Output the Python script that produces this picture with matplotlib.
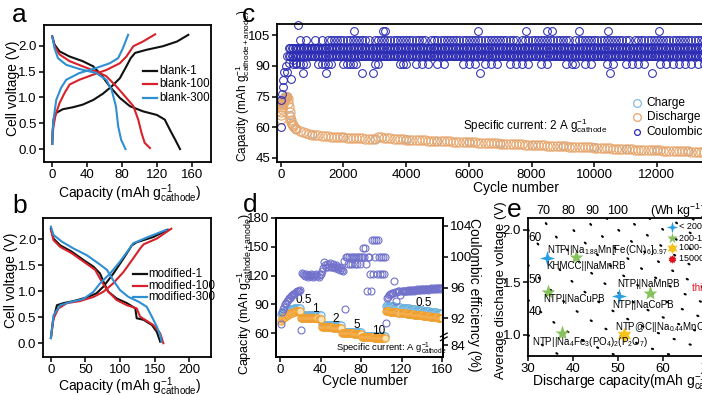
import matplotlib
matplotlib.use('Agg')
import matplotlib.pyplot as plt
from matplotlib.ticker import FormatStrFormatter
from matplotlib.path import Path
import matplotlib.transforms as mtrans
import numpy as np

FONT = 'Liberation Sans'
plt.rcParams.update({
    'font.family': [FONT, 'DejaVu Sans'],
    'mathtext.fontset': 'custom',
    'mathtext.rm': FONT, 'mathtext.it': FONT + ':italic', 'mathtext.bf': FONT + ':bold',
    'mathtext.sf': FONT,
    'font.size': 9,
    'axes.linewidth': 1.3,
    'xtick.direction': 'out', 'ytick.direction': 'out',
    'xtick.major.size': 3.5, 'ytick.major.size': 3.5,
    'xtick.major.width': 1.1, 'ytick.major.width': 1.1,
    'xtick.major.pad': 1.5, 'ytick.major.pad': 1.5,
    'xtick.labelsize': 9.5, 'ytick.labelsize': 9.5,
    'axes.labelsize': 10,
})

# ------------------------------------------------------------------ data
# panel a (blank)
a_c1_cap = [0, 0.5, 1.5, 4.6, 12, 24, 35, 47, 58, 68, 77.5, 85, 90, 95, 108, 127, 143, 156]
a_c1_v = [0.10, 0.35, 0.57, 0.70, 0.77, 0.81, 0.86, 0.95, 1.07, 1.21, 1.37, 1.60, 1.76, 1.86, 1.92, 1.99, 2.08, 2.21]
a_d1_cap = [0, 2.7, 8.4, 20, 35, 47, 56, 66, 77.5, 89, 104, 120, 129, 135, 141, 146.5]
a_d1_v = [2.18, 2.02, 1.89, 1.79, 1.70, 1.60, 1.44, 1.21, 0.99, 0.83, 0.73, 0.66, 0.57, 0.37, 0.18, 0.0]
a_c100_cap = [0, 0.5, 1.5, 3.8, 8.4, 14, 20, 31, 47, 62, 77.5, 85, 93, 104, 118]
a_c100_v = [0.10, 0.30, 0.44, 0.66, 0.89, 1.08, 1.25, 1.34, 1.44, 1.53, 1.66, 1.79, 1.99, 2.08, 2.22]
a_d100_cap = [0, 2.7, 8.4, 20, 35, 50.6, 62, 73.6, 85, 93, 98.6, 102.4, 106, 112]
a_d100_v = [2.18, 1.99, 1.83, 1.70, 1.60, 1.50, 1.41, 1.21, 0.99, 0.83, 0.57, 0.31, 0.12, 0.02]
a_c300_cap = [0, 0.5, 1.5, 4.6, 10, 16, 31, 50.6, 66, 75.6, 81, 87]
a_c300_v = [0.10, 0.35, 0.57, 0.95, 1.18, 1.34, 1.47, 1.57, 1.66, 1.76, 1.95, 2.21]
a_d300_cap = [0, 2.7, 6.5, 16, 31, 50.6, 62, 68, 73, 75.6, 79, 84]
a_d300_v = [2.18, 1.95, 1.76, 1.63, 1.55, 1.47, 1.34, 1.15, 0.83, 0.44, 0.18, 0.0]

# panel b (modified)
b_c1_cap = [0, 2.9, 8.7, 18, 32.7, 52, 66, 76, 90.4, 105, 117, 124, 148, 169]
b_c1_v = [0.10, 0.42, 0.73, 0.77, 0.81, 0.88, 0.96, 1.09, 1.34, 1.63, 1.88, 1.94, 2.04, 2.18]
b_d1_cap = [0, 3.8, 13.5, 30, 47, 61.6, 71, 77, 83, 95, 110, 122, 124, 134, 146, 153, 158]
b_d1_v = [2.20, 2.01, 1.88, 1.76, 1.60, 1.47, 1.34, 1.15, 0.99, 0.86, 0.77, 0.67, 0.48, 0.45, 0.35, 0.22, 0.03]
b_c100_cap = [0, 3.8, 11, 23, 42, 61.6, 76, 90, 105, 119, 129, 134, 153, 174]
b_c100_v = [0.10, 0.48, 0.67, 0.77, 0.81, 0.89, 0.99, 1.15, 1.37, 1.63, 1.82, 1.90, 2.01, 2.20]
b_d100_cap = [0, 3.8, 13.5, 30, 47, 64, 73.6, 83, 95, 110, 124, 129, 138.5, 148, 158, 162.5]
b_d100_v = [2.18, 1.98, 1.85, 1.73, 1.57, 1.41, 1.18, 0.99, 0.83, 0.73, 0.67, 0.51, 0.43, 0.35, 0.19, 0.0]
b_c300_cap = [0, 3.8, 13.5, 28, 47, 61.6, 71, 85.6, 100, 112, 119, 138.5, 167]
b_c300_v = [0.10, 0.54, 0.73, 0.79, 0.85, 0.99, 1.15, 1.34, 1.57, 1.79, 1.92, 2.03, 2.18]
b_d300_cap = [0, 3.8, 16, 32.7, 52, 69, 81, 90, 100, 112, 126.5, 138.5, 146, 153, 158, 160]
b_d300_v = [2.24, 2.08, 1.95, 1.82, 1.69, 1.53, 1.41, 1.21, 1.02, 0.89, 0.80, 0.70, 0.51, 0.32, 0.16, 0.03]

# panel c (long cycling)
c_dis_early_cyc = [0, 10, 20, 30, 40, 50, 60, 70, 80, 90, 100, 120, 140, 160, 180, 200, 220, 240,
                   260, 280, 300, 320, 340, 360, 380, 400, 450]
c_dis_early = [64.0, 66.0, 67.5, 69.0, 70.0, 70.8, 71.5, 72.0, 72.6, 73.0, 73.5, 74.0, 74.5, 75.0,
               75.0, 74.6, 73.6, 72.0, 70.0, 67.6, 65.2, 63.6, 62.5, 61.6, 61.0, 60.5, 59.8]
c_dis_cyc = list(range(500, 14600, 100))
c_dis = [59.0, 58.2, 57.6, 57.1, 56.7, 56.4,
         56.1, 56.0, 55.8, 55.7, 55.5, 55.4, 55.3, 55.2, 55.1, 55.0,
         54.9, 54.9, 54.8, 54.7, 54.6, 54.5, 54.4, 54.3, 54.2, 54.1,
         55.2, 55.0, 54.8, 54.7, 54.5, 54.4, 54.3, 54.2, 54.1, 54.0,
         53.9, 53.9, 53.8, 53.7, 53.7, 53.6, 53.5, 53.5, 53.4, 53.3,
         53.3, 53.2, 53.1, 53.1, 53.0, 52.9, 52.9, 52.8, 52.8, 52.7,
         52.6, 52.6, 52.5, 52.4, 52.4, 52.3, 52.2, 52.2, 52.1, 52.0,
         52.0, 51.9, 51.8, 51.8, 51.7, 51.6, 51.6, 51.5, 51.4, 51.3,
         51.3, 51.2, 51.1, 51.1, 51.0, 50.9, 50.9, 50.8, 50.7, 50.6,
         50.6, 50.5, 50.4, 50.4, 50.3, 50.3, 50.2, 50.1, 50.1, 50.0,
         49.9, 49.9, 49.8, 49.7, 49.7, 49.6, 49.5, 49.5, 49.4, 49.3,
         49.3, 49.2, 49.1, 49.1, 49.0, 49.0, 48.9, 48.8, 48.8, 48.7,
         48.7, 48.6, 48.6, 48.5, 48.5, 48.4, 48.3, 48.3, 48.2, 48.2,
         48.1, 48.1, 48.0, 48.0, 47.9, 47.9, 47.8, 47.8, 47.7, 47.7,
         47.6, 47.6, 47.5, 47.5, 47.5]
c_chg_cyc = [0, 10, 20, 40, 60, 100, 150, 200, 300, 500, 1000, 2000, 3000, 4000, 5000, 6000,
             7000, 8000, 9000, 10000, 11000, 12000, 13000, 14000]
c_chg = [72.0, 72.5, 73.0, 73.5, 74.0, 75.0, 75.5, 75.2, 66.0, 59.3, 56.6, 55.2, 54.3, 54.2,
         53.5, 52.9, 52.2, 51.5, 50.8, 50.2, 49.5, 48.9, 48.4, 47.9]
# Coulombic-efficiency markers (drawn in the left-axis frame; the right axis is cut off)
c_ce_ramp_cyc = [0, 10, 30, 60, 85, 115, 170, 210, 275, 320, 380, 490]
c_ce_ramp = [60.1, 73.1, 76.3, 79.9, 83.0, 87.0, 89.9, 87.0, 91.5, 83.4, 92.8, 91.5]
c_ce_levels = [110.0, 107.0, 102.6, 98.9, 95.0, 90.9, 86.7]
c_ce_cyc_110 = [560]
c_ce_cyc_107 = [2350, 3270, 3320, 6300, 7830, 8500, 8650, 9500, 10430, 12070]
c_ce_cyc_1026 = [600, 800, 1100, 1300] + [c for c in range(1500, 14600, 100)
                                         if c not in (2900, 4700, 7600, 9300, 11200)]
c_ce_cyc_989 = list(range(250, 14600, 50))
c_ce_cyc_950 = list(range(200, 14600, 50))
c_ce_cyc_909 = [400, 500, 600, 700, 800, 1200, 1300, 1400, 1500, 1600, 2000, 2100, 2200, 2300,
                2400, 3000, 3100, 3800, 3900, 4000, 4300, 4500, 4700, 5000, 5200, 5800, 6000,
                6200, 6500, 6700, 6900, 7300, 7500, 7700, 7900, 8300, 8500, 9100, 9300, 9400,
                9700, 9900, 10400, 10600, 11000, 11200, 11400, 11600, 12100, 12300, 12500,
                12700, 12900, 13100, 13300, 13500]
c_ce_cyc_867 = [700, 1450, 2600, 2950, 6350, 10500, 11850]

# panel d (rate)
d_charge = [79.8, 80.8, 81.6, 82.3, 82.9, 83.4, 83.8, 84.2, 84.5, 84.8, 85.1, 85.3, 85.5, 85.7, 85.9, 86.0, 86.2, 86.3, 86.4, 86.5,
            79.6, 79.3, 79.2, 79.1, 79.0, 79.0, 78.9, 78.9, 78.9, 78.8, 78.8, 78.8, 78.7, 78.7, 78.7, 78.7, 78.6, 78.6, 78.6, 78.6,
            69.0, 68.7, 68.6, 68.5, 68.5, 68.4, 68.4, 68.4, 68.3, 68.3, 68.3, 68.3, 68.2, 68.2, 68.2, 68.2, 68.2, 68.1, 68.1, 68.1,
            61.9, 61.6, 61.5, 61.5, 61.4, 61.4, 61.4, 61.4, 61.3, 61.3, 61.3, 61.3, 61.3, 61.2, 61.2, 61.2, 61.2, 61.2, 61.2, 61.1,
            57.6, 57.3, 57.2, 57.1, 57.1, 57.0, 57.0, 57.0, 57.0, 56.9, 56.9, 56.9, 56.9, 56.9, 56.8, 56.8, 56.8, 56.8, 56.8, 56.8,
            56.7, 56.7, 56.7, 56.7,
            88.6, 88.8, 88.6, 88.4, 88.3, 88.1, 88.0, 87.8, 87.7, 87.5, 87.4, 87.2, 87.1, 86.9, 86.8, 86.6,
            86.5, 86.3, 86.2, 86.0, 85.9, 85.7, 85.6, 85.4, 85.3, 85.1, 85.0, 84.8, 84.7, 84.5, 84.4, 84.2,
            84.1, 83.9, 83.8, 83.6, 83.5, 83.3, 83.2, 83.0, 82.9, 82.7, 82.6, 82.4, 82.3, 82.1, 82.0, 81.8,
            81.7, 81.5, 81.4, 81.2, 81.1, 81.0, 80.9, 80.8]
d_discharge = [73.0, 74.3, 75.4, 76.4, 77.2, 78.0, 78.7, 79.3, 79.9, 80.4, 80.9, 81.3, 81.7, 82.0, 82.3, 82.5, 82.7, 82.9, 83.0, 83.1,
               76.2, 75.9, 75.8, 75.7, 75.6, 75.6, 75.5, 75.5, 75.4, 75.4, 75.4, 75.3, 75.3, 75.3, 75.2, 75.2, 75.2, 75.1, 75.1, 75.0,
               66.8, 66.4, 66.2, 66.1, 66.0, 66.0, 65.9, 65.9, 65.8, 65.8, 65.8, 65.7, 65.7, 65.7, 65.6, 65.6, 65.6, 65.5, 65.5, 65.5,
               60.3, 60.0, 59.9, 59.8, 59.8, 59.7, 59.7, 59.7, 59.6, 59.6, 59.6, 59.6, 59.5, 59.5, 59.5, 59.5, 59.4, 59.4, 59.4, 59.4,
               56.2, 55.9, 55.8, 55.7, 55.6, 55.6, 55.5, 55.5, 55.5, 55.4, 55.4, 55.4, 55.3, 55.3, 55.3, 55.3, 55.2, 55.2, 55.2, 55.2,
               55.1, 55.1, 55.1, 55.1,
               82.6, 82.8, 82.7, 82.5, 82.4, 82.3, 82.1, 82.0, 81.9, 81.7, 81.6, 81.5, 81.3, 81.2, 81.1, 80.9,
               80.8, 80.7, 80.5, 80.4, 80.3, 80.1, 80.0, 79.9, 79.7, 79.6, 79.5, 79.3, 79.2, 79.1, 78.9, 78.8,
               78.7, 78.5, 78.4, 78.3, 78.1, 78.0, 77.9, 77.7, 77.6, 77.5, 77.3, 77.2, 77.1, 76.9, 76.8, 76.7,
               76.5, 76.4, 76.3, 76.1, 76.0, 75.8, 75.7, 75.5]
d_ce = [91.3, 92.8, 93.2, 93.5, 93.8, 94.0, 94.2, 94.4, 94.6, 94.7, 94.9, 95.0, 95.1, 95.2, 95.3, 95.4, 95.5, 95.5, 95.6, 95.7,
        90.5, 97.9, 97.7, 97.6, 97.5, 97.7, 97.6, 97.4, 97.6, 97.5, 97.7, 97.6, 97.4, 97.5, 97.6, 97.7, 97.5, 97.4, 97.6, 97.8,
        98.1, 98.5, 99.3, 98.9, 98.7, 99.0, 98.6, 98.9, 99.2, 98.7, 98.6, 99.0, 98.8, 98.5, 98.9, 98.6, 98.4, 98.7, 98.3, 98.5,
        98.3, 98.1, 99.4, 93.2, 100.0, 100.0, 99.0, 100.0, 99.0, 100.0, 99.0, 100.0, 100.0, 99.0, 100.0, 99.0, 100.0, 100.0, 99.0, 100.0,
        100.0, 101.1, 100.0, 101.1, 99.0, 95.6, 100.0, 100.0, 97.8, 95.6, 102.2, 97.8, 102.2, 100.0, 102.2, 97.8,
        102.2, 100.0, 97.8, 100.0, 97.8, 100.0, 97.8, 100.0,
        91.4, 94.6, 94.8, 95.0, 95.1, 95.2, 95.3, 95.3, 96.8, 95.4, 94.3, 95.4, 95.5, 95.5, 95.0, 95.6,
        95.5, 95.6, 95.5, 95.6, 95.6, 95.7, 95.6, 95.7, 95.6, 95.7, 95.7, 95.6, 95.7, 95.7, 95.8, 95.7,
        95.7, 95.8, 95.7, 95.8, 95.8, 95.7, 95.8, 95.8, 95.8, 95.7, 95.8, 95.8, 95.9, 95.8, 95.8, 95.9,
        95.8, 95.9, 95.8, 95.9, 95.9, 95.8, 95.9, 95.9]
d_rate_labels = ['0.5', '1', '2', '5', '10', '0.5']
d_right_tick_vals = [88.5, 92, 96, 100, 104]
d_right_tick_labels = ['84', '92', '96', '100', '104']

# panel e (comparison)
e_names = [r'NTP||Na$_{1.88}$Mn[Fe(CN)$_6$]$_{0.97}$', 'KHMCC||NaMnRB', 'NTP||NaCuPB',
           'NTP||NaMnPB', 'NTP||NaCoPB', r'NTP@C||Na$_{0.44}$MnO$_2$',
           r'NTP||Na$_4$Fe$_3$(PO$_4$)$_2$(P$_2$O$_7$)', 'this work']
e_cap = [40.6, 34.3, 34.5, 57.0, 50.3, 51.3, 37.6, 76.0]
e_volt = [1.74, 1.73, 1.41, 1.40, 1.37, 1.00, 1.02, 1.45]
e_group = [1, 0, 1, 1, 0, 2, 1, 3]
e_group_names = ['< 200 cycles', '200-1000 cycles', '1000-15000 cycles', '15000 cycles']
e_energy_levels = [30, 40, 50, 60, 70, 80, 90, 100, 110, 120, 130, 140, 150, 160]
e_top_labels = ['70', '80', '90', '100']
e_side_labels = ['60', '50', '40']

# ------------------------------------------------------------------ layout
W, H = 702, 395
fig = plt.figure(figsize=(W / 100, H / 100), dpi=100)


def rect(l, t, r, b):
    return [l / W, 1 - b / H, (r - l) / W, (b - t) / H]


def style(ax):
    ax.tick_params(top=False, right=False)


def place_labels(ax, xl, yl):
    ax.xaxis.label.set_va('center')
    ax.yaxis.label.set_va('center')
    ax.xaxis.set_label_coords(*xl)
    ax.yaxis.set_label_coords(*yl)


BLACK, RED, BLUE = '#111111', '#d8222a', '#2f8fd2'

# ---------------- panel a
ax_a = fig.add_axes(rect(43.5, 25, 211, 162))
for cx, vx, col in [(a_c1_cap, a_c1_v, BLACK), (a_d1_cap, a_d1_v, BLACK),
                    (a_c100_cap, a_c100_v, RED), (a_d100_cap, a_d100_v, RED),
                    (a_c300_cap, a_c300_v, BLUE), (a_d300_cap, a_d300_v, BLUE)]:
    ax_a.plot(cx, vx, color=col, lw=1.5, solid_joinstyle='round')
ax_a.set_xlim(-10, 182)
ax_a.set_ylim(-0.25, 2.4)
ax_a.set_xticks([0, 40, 80, 120, 160])
ax_a.set_yticks([0, 0.5, 1.0, 1.5, 2.0])
ax_a.yaxis.set_major_formatter(FormatStrFormatter('%.1f'))
ax_a.set_xlabel(r'Capacity (mAh g$^{-1}_{\mathrm{cathode}}$)')
ax_a.set_ylabel('Cell voltage (V)')
place_labels(ax_a, (0.516, -0.235), (-0.185, 0.536))
style(ax_a)
for y, col, lab in [(0.664, BLACK, 'blank-1'), (0.569, RED, 'blank-100'), (0.467, BLUE, 'blank-300')]:
    ax_a.plot([0.594, 0.678], [y, y], transform=ax_a.transAxes, color=col, lw=1.6)
    ax_a.text(0.69, y, lab, transform=ax_a.transAxes, va='center', ha='left', fontsize=8.3)

# ---------------- panel b
ax_b = fig.add_axes(rect(43.3, 218.3, 210.7, 357.3))
for cx, vx, col in [(b_c1_cap, b_c1_v, BLACK), (b_d1_cap, b_d1_v, BLACK),
                    (b_c100_cap, b_c100_v, RED), (b_d100_cap, b_d100_v, RED),
                    (b_c300_cap, b_c300_v, BLUE), (b_d300_cap, b_d300_v, BLUE)]:
    ax_b.plot(cx, vx, color=col, lw=1.5, solid_joinstyle='round')
ax_b.set_xlim(-11, 231)
ax_b.set_ylim(-0.27, 2.4)
ax_b.set_xticks([0, 50, 100, 150, 200])
ax_b.set_yticks([0, 0.5, 1.0, 1.5, 2.0])
ax_b.yaxis.set_major_formatter(FormatStrFormatter('%.1f'))
ax_b.set_xlabel(r'Capacity (mAh g$^{-1}_{\mathrm{cathode}}$)')
ax_b.set_ylabel('Cell voltage (V)')
place_labels(ax_b, (0.518, -0.215), (-0.193, 0.556))
style(ax_b)
for y, col, lab in [(0.599, BLACK, 'modified-1'), (0.515, RED, 'modified-100'), (0.436, BLUE, 'modified-300')]:
    ax_b.plot([0.538, 0.618], [y, y], transform=ax_b.transAxes, color=col, lw=1.6)
    ax_b.text(0.627, y, lab, transform=ax_b.transAxes, va='center', ha='left', fontsize=8.3)

# ---------------- panel c
C_CHG, C_DIS, C_CE = '#86b9e0', '#e8a66c', '#2c2cb4'
ax_c = fig.add_axes(rect(277, 24, 735.3, 162))
ax_c.plot(c_chg_cyc, c_chg, 'o', ls='none', ms=5.8, mfc='none', mec=C_CHG, mew=0.8)
ax_c.plot(c_dis_early_cyc + c_dis_cyc, c_dis_early + c_dis, 'o', ls='none', ms=6.6,
          mfc='none', mec=C_DIS, mew=0.8)
ce_rows = [c_ce_cyc_110, c_ce_cyc_107, c_ce_cyc_1026, c_ce_cyc_989, c_ce_cyc_950,
           c_ce_cyc_909, c_ce_cyc_867]
for lvl, cyc in zip(c_ce_levels, ce_rows):
    ax_c.plot(cyc, [lvl] * len(cyc), 'o', ls='none', ms=5.6, mfc='none', mec=C_CE, mew=0.75,
              clip_on=False)
ax_c.plot(c_ce_ramp_cyc, c_ce_ramp, 'o', ls='none', ms=5.6, mfc='none', mec=C_CE, mew=0.75)
ax_c.set_xlim(-120, 14500)
ax_c.set_ylim(43, 110.5)
ax_c.set_xticks(range(0, 14001, 2000))
ax_c.set_yticks([45, 60, 75, 90, 105])
ax_c.set_xlabel('Cycle number')
ax_c.set_ylabel(r'Capacity (mAh g$^{-1}_{\mathrm{cathode+anode}}$)', fontsize=8.5)
place_labels(ax_c, (0.5215, -0.19), (-0.0753, 0.55))
style(ax_c)
for y, col, lab, ms in [(0.430, C_CHG, 'Charge', 5.6), (0.324, C_DIS, 'Discharge', 5.6),
                        (0.220, C_CE, 'Coulombic', 4.2)]:
    ax_c.plot([0.785], [y], 'o', transform=ax_c.transAxes, ms=ms, mfc='none', mec=col, mew=0.9)
    ax_c.text(0.807, y, lab, transform=ax_c.transAxes, va='center', ha='left', fontsize=8.6)
ax_c.text(0.406, 0.262, r'Specific current: 2 A g$^{-1}_{\mathrm{cathode}}$', transform=ax_c.transAxes,
          va='center', ha='left', fontsize=8.4)

# ---------------- panel d
D_CHG_E, D_CHG_F = '#6cb2dc', '#d9edf9'
D_DIS_E, D_DIS_F = '#f0a030', '#fde2b4'
D_CE = '#7272cc'
ax_d = fig.add_axes(rect(276, 218, 443, 357))
d_cyc_c = list(range(1, len(d_charge) + 1))
d_cyc_d = list(range(1, len(d_discharge) + 1))
d_cyc_e = list(range(1, len(d_ce) + 1))
ax_d.plot(d_cyc_c, d_charge, 'o', ls='none', ms=5.2, mfc=D_CHG_F, mec=D_CHG_E, mew=0.8)
ax_d.plot(d_cyc_d, d_discharge, 'o', ls='none', ms=5.2, mfc=D_DIS_F, mec=D_DIS_E, mew=0.8)
ax_d.set_xlim(-4, 161)
ax_d.set_ylim(35, 180)
ax_d.set_xticks([0, 40, 80, 120, 160])
ax_d.set_yticks([60, 90, 120, 150, 180])
ax_d.set_xlabel('Cycle number')
ax_d.set_ylabel(r'Capacity (mAh g$^{-1}_{\mathrm{cathode+anode}}$)', fontsize=9)
place_labels(ax_d, (0.533, -0.17), (-0.19, 0.45))
ax_d.tick_params(top=False)
rate_pos = [(23, 94.4), (35.3, 84.7), (55.3, 74.6), (76.3, 68.4), (97, 62.4), (141.5, 91)]
for lab, (x, y) in zip(d_rate_labels, rate_pos):
    ax_d.text(x, y, lab, ha='center', va='center', fontsize=8.5)
ax_d.text(0.359, 0.067, r'Specific current: A g$^{-1}_{\mathrm{cathode}}$', transform=ax_d.transAxes,
          va='center', ha='left', fontsize=6.8)
ax_d2 = ax_d.twinx()
ax_d2.plot(d_cyc_e, d_ce, 'o', ls='none', ms=5.0, mfc='none', mec=D_CE, mew=0.8)
ax_d2.set_ylim(87, 105)
ax_d2.set_yticks(d_right_tick_vals)
ax_d2.set_yticklabels(d_right_tick_labels)
ax_d2.set_ylabel('Coulombic efficiency (%)', rotation=270)
ax_d2.yaxis.label.set_va('center')
ax_d2.yaxis.set_label_coords(1.186, 0.446)
for dy in (-0.014, 0.014):
    ax_d2.plot([0.985, 1.025], [0.132 + dy, 0.158 + dy], transform=ax_d2.transAxes,
               color='k', lw=0.9, clip_on=False)

# ---------------- panel e
ax_e = fig.add_axes(rect(528, 218, 753, 356))
cap_grid = np.linspace(30, 80, 300)
for E in e_energy_levels:
    ax_e.plot(cap_grid, E / cap_grid, color='k', lw=1.5, ls=(0, (0.6, 7.5)),
              dash_capstyle='round', zorder=1)
group_style = [
    dict(marker=Path.unit_regular_star(4, 0.32), color='#2a9fe2', ms=11),
    dict(marker='*', color='#86c35c', ms=11),
    dict(marker=Path.unit_regular_star(6, 0.55), color='#f6c21c', ms=11),
    dict(marker=Path.unit_regular_star(10, 0.7), color='#e0101c', ms=8),
]
for x, y, g in zip(e_cap, e_volt, e_group):
    st = group_style[g]
    ax_e.plot([x], [y], ls='none', marker=st['marker'], color=st['color'], ms=st['ms'],
              mec='none', zorder=3)
label_pos = [(34.2, 1.81), (34.0, 1.65), (33.4, 1.34), (49.8, 1.48), (48.7, 1.28),
             (49.3, 1.08), (30.9, 0.93), (66.4, 1.45)]
for name, (x, y) in zip(e_names, label_pos):
    ax_e.text(x, y, name, ha='left', va='center', fontsize=7,
              color='#e0101c' if name == 'this work' else 'k', zorder=4)
topT = mtrans.blended_transform_factory(ax_e.transData, ax_e.transAxes)
for lab, x in zip(e_top_labels, [33.3, 38.9, 44.4, 49.8]):
    ax_e.text(x, 1.05, lab, transform=topT, ha='center', va='center', fontsize=9)
ax_e.text(57.1, 1.05, r'(Wh kg$^{-1}$)', transform=topT, ha='left', va='center', fontsize=9)
for lab, (x, y) in zip(e_side_labels, [(31.6, 1.92), (31.6, 1.52), (31.6, 1.22)]):
    ax_e.text(x, y, lab, ha='center', va='center', fontsize=8.5)
for i, (gname, st) in enumerate(zip(e_group_names, group_style)):
    y = [0.935, 0.855, 0.783, 0.703][i]
    ax_e.plot([0.64], [y], transform=ax_e.transAxes, ls='none', marker=st['marker'],
              color=st['color'], ms=st['ms'] * 0.75, mec='none')
    ax_e.text(0.671, y, gname, transform=ax_e.transAxes, ha='left', va='center', fontsize=6.5)
ax_e.set_xlim(30, 80)
ax_e.set_ylim(0.8, 2.11)
ax_e.set_xticks([30, 40, 50, 60, 70])
ax_e.set_yticks([1.0, 1.5, 2.0])
ax_e.yaxis.set_major_formatter(FormatStrFormatter('%.1f'))
ax_e.set_xlabel(r'Discharge capacity(mAh g$^{-1}_{\mathrm{cathode}}$)')
ax_e.set_ylabel('Average discharge voltage (V)', fontsize=9.5)
ax_e.xaxis.label.set_ha('left')
place_labels(ax_e, (0.018, -0.185), (-0.12, 0.478))
style(ax_e)

# panel letters
for lab, x, y in [('a', 12, 22), ('b', 12, 213), ('c', 242, 21.7), ('d', 243, 212), ('e', 507, 216.7)]:
    fig.text(x / W, 1 - y / H, lab, fontsize=19, family='Liberation Sans', va='baseline', ha='left')

fig.savefig('out.png', dpi=100)
